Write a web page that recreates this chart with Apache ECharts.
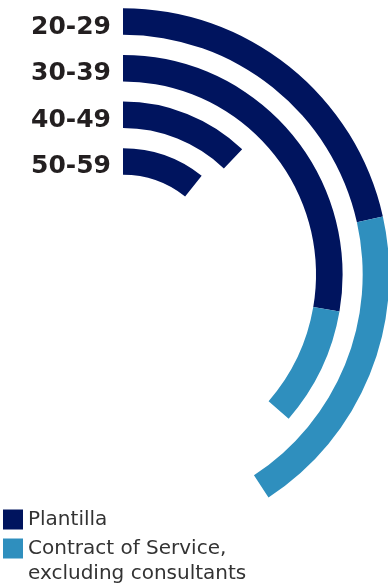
<!DOCTYPE html>
<html>
<head>
<meta charset="utf-8">
<script src="https://cdn.jsdelivr.net/npm/echarts@6/dist/echarts.min.js"></script>
<style>
  html, body { margin: 0; padding: 0; background: #fff; }
  #chart { width: 388px; height: 587px; }
</style>
</head>
<body>
<div id="chart"></div>
<script>
// age groups, outermost ring first
var ageGroups = ['20-29', '30-39', '40-49', '50-59'];
// share of all personnel (%), whole figure adds up to 100
var plantilla = [21.5, 27.7, 12.1, 10.7];
var contractOfService = [19.3, 8.7, 0, 0];

var seriesNames = ['Plantilla', 'Contract of Service,\nexcluding consultants'];

var myChart = echarts.init(document.getElementById('chart'));

var option = {
  animation: false,
  polar: {
    center: [123, 274.5],
    radius: [89.7, 276.3]
  },
  angleAxis: {
    type: 'value',
    min: 0,
    max: 100,
    startAngle: 90,
    clockwise: true,
    show: false
  },
  radiusAxis: {
    type: 'category',
    data: ageGroups,
    inverse: true,
    axisLine: { show: false },
    axisTick: { show: false },
    splitLine: { show: false },
    axisLabel: {
      interval: 0,
      margin: 12,
      fontFamily: 'DejaVu Sans',
      fontWeight: 'bold',
      fontSize: 25,
      color: '#231f20',
      // nudge the text a few px below the ring centre, like the original
      verticalAlign: 'top',
      lineHeight: 11
    }
  },
  legend: {
    orient: 'vertical',
    left: 3,
    top: 507,
    height: 200,
    padding: 0,
    itemWidth: 20,
    itemHeight: 20,
    itemGap: -21,
    icon: 'rect',
    // blank first line so the square sits beside the first line of a 2-line name
    formatter: function (name) {
      return name.indexOf('\n') >= 0 ? '\n' + name : name;
    },
    textStyle: {
      fontFamily: 'DejaVu Sans',
      fontSize: 20,
      lineHeight: 25,
      color: '#333333'
    },
    data: seriesNames
  },
  series: [
    {
      name: seriesNames[0],
      type: 'bar',
      coordinateSystem: 'polar',
      stack: 'age',
      barCategoryGap: '43%',
      itemStyle: { color: '#00145e' },
      data: plantilla
    },
    {
      name: seriesNames[1],
      type: 'bar',
      coordinateSystem: 'polar',
      stack: 'age',
      barCategoryGap: '43%',
      itemStyle: { color: '#2f8fbe' },
      data: contractOfService
    }
  ]
};

myChart.setOption(option);
</script>
</body>
</html>
